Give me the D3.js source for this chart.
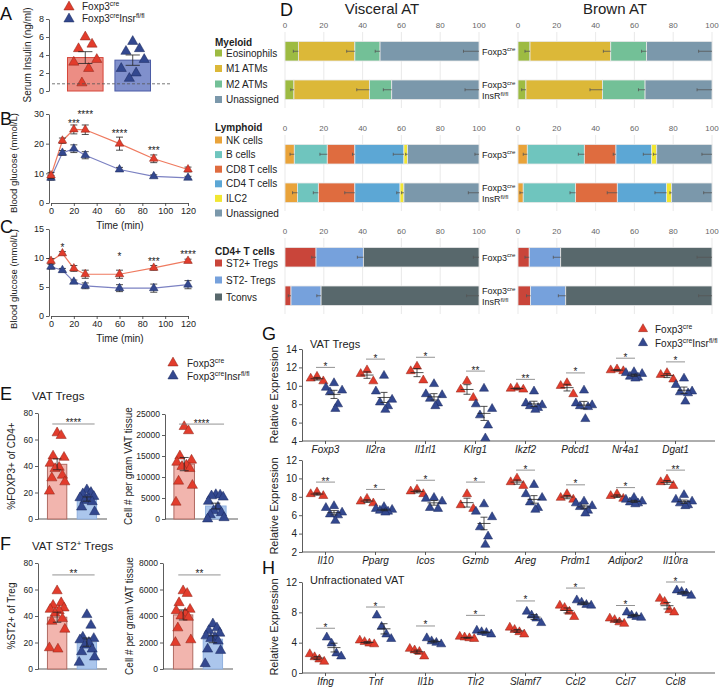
<!DOCTYPE html>
<html>
<head>
<meta charset="utf-8">
<script src="https://cdn.jsdelivr.net/npm/d3@7"></script>
<style>
body { margin: 0; background: #fff; }
</style>
</head>
<body>
<script>
'use strict';

// ---- A: serum insulin
var insulinCre = [6.0, 5.2, 4.7, 3.5, 3.2, 2.5, 0.9];
var insulinKO = [5.5, 4.7, 4.4, 3.5, 2.5, 2.0, 1.4];
var insulinCutoff = 0.8;

// ---- B / C: glucose curves
var times = [0, 10, 20, 30, 60, 90, 120];
var gttCre = [9.3, 21.0, 24.8, 24.7, 20.0, 14.9, 11.3];
var gttCreErr = [1.0, 0.9, 1.5, 1.6, 2.2, 1.3, 0.8];
var gttKO = [8.5, 16.9, 18.3, 16.1, 11.3, 9.0, 8.5];
var gttKOErr = [0.8, 0.8, 1.3, 1.2, 0.7, 0.5, 0.5];
var gttStars = [['***', 20, 27.6], ['****', 30, 30.7], ['****', 60, 24.3], ['***', 90, 18.5]];
var ittCre = [9.5, 10.8, 8.2, 7.2, 7.2, 8.3, 9.5];
var ittCreErr = [0.4, 0.3, 0.5, 0.7, 0.7, 0.4, 0.3];
var ittKO = [8.5, 7.9, 5.9, 5.2, 4.8, 4.8, 5.4];
var ittKOErr = [0.4, 0.3, 0.3, 0.5, 0.6, 0.7, 0.7];
var ittStars = [['*', 10, 12.2], ['*', 60, 10.7], ['***', 90, 9.7], ['****', 120, 10.9]];

// ---- D: composition (segment sizes, % ; row 0 = Foxp3cre, row 1 = InsR fl/fl)
var myeloidCats = ['Eosinophils', 'M1 ATMs', 'M2 ATMs', 'Unassigned'];
var lymphoidCats = ['NK cells', 'B cells', 'CD8 T cells', 'CD4 T cells', 'ILC2', 'Unassigned'];
var cd4Cats = ['ST2+ Tregs', 'ST2- Tregs', 'Tconvs'];
var visceralMyeloid = [[6.9, 29.1, 13.0, 51.0], [4.6, 38.9, 11.5, 45.0]];
var visceralMyeloidErr = [[2.6, 4.2, 2.5, 8.0], [1.6, 6.5, 4.3, 7.2]];
var visceralLymphoid = [[4.8, 17.0, 14.2, 25.3, 1.9, 36.8], [6.5, 10.7, 18.8, 23.3, 2.0, 38.7]];
var visceralLymphoidErr = [[2.2, 3.8, 1.2, 5.5, 1.0, 2.1], [2.6, 2.6, 5.2, 1.7, 1.2, 5.5]];
var visceralCd4 = [[16.0, 24.4, 59.6], [3.1, 15.5, 81.4]];
var visceralCd4Err = [[2.2, 3.1, 2.9], [1.4, 2.2, 6.4]];
var brownMyeloid = [[6.2, 41.6, 18.5, 33.7], [4.1, 39.5, 21.9, 34.5]];
var brownMyeloidErr = [[2.6, 3.8, 2.6, 6.9], [2.2, 6.5, 3.4, 7.7]];
var brownLymphoid = [[4.8, 29.4, 16.3, 18.4, 2.6, 28.5], [2.7, 27.0, 21.5, 25.4, 2.6, 20.8]];
var brownLymphoidErr = [[2.1, 3.1, 1.4, 4.3, 1.7, 5.2], [1.7, 2.9, 5.2, 6.0, 0.9, 4.3]];
var brownCd4 = [[5.8, 16.2, 78.0], [6.5, 18.1, 75.4]];
var brownCd4Err = [[2.2, 3.8, 7.7], [2.1, 3.8, 6.9]];
var compTicks = [0, 20, 40, 60, 80, 100];

// ---- E / F
var tregPctCre = [65, 63, 47.5, 46.5, 42, 39, 38, 33, 31, 28, 21];
var tregPctKO = [22, 20, 19, 17, 16, 15, 14, 13, 9, 5.5];
var tregNumCre = [22000, 21000, 15000, 14000, 13500, 12800, 12500, 12000, 9000, 8000, 4000];
var tregNumKO = [5800, 5700, 5500, 5200, 4200, 2800, 2000, 1500, 1000, 300, 0];
var st2PctCre = [59, 50, 48, 46, 45, 44, 42, 38, 36, 30, 16, 15];
var st2PctKO = [41, 33, 24, 23, 22, 20, 18, 15, 13, 9, 5];
var st2NumCre = [5900, 5700, 5000, 4500, 4400, 4200, 4000, 3900, 3100, 2200, 2000];
var st2NumKO = [3400, 3100, 2900, 2700, 2500, 2400, 2300, 2100, 1500, 1400, 400];

// ---- G / H
var gTopGenes = ['Foxp3', 'Il2ra', 'Il1rl1', 'Klrg1', 'Ikzf2', 'Pdcd1', 'Nr4a1', 'Dgat1'];
var gTopCre = [[11.0, 10.8, 10.5], [11.7, 11.3, 10.5], [12.1, 11.6, 10.6], [10.5, 9.6, 8.7],
  [9.8, 9.7, 9.6], [10.3, 10.0, 9.1], [11.8, 11.7, 11.6], [11.4, 11.2, 10.7]];
var gTopKO = [[10.3, 9.8, 9.5, 9.3, 8.0, 7.5], [11.1, 9.4, 8.5, 8.2, 7.8, 7.4], [10.2, 9.1, 9.0, 8.6, 8.1, 7.8],
  [9.7, 8.0, 7.5, 6.8, 5.7, 4.3], [9.4, 8.1, 7.9, 7.8, 7.6, 7.4], [9.5, 8.1, 7.9, 7.8, 7.7, 6.4],
  [11.5, 11.4, 11.3, 11.0, 10.9, 10.8], [10.8, 10.1, 9.4, 9.3, 9.2, 8.3]];
var gTopSig = [['*', 12.0], ['*', 12.9], ['*', 13.1], ['**', 11.6], ['**', 10.7], ['*', 11.4], ['*', 13.0], ['*', 12.6]];

var gBotGenes = ['Il10', 'Pparg', 'Icos', 'Gzmb', 'Areg', 'Prdm1', 'Adipor2', 'Il10ra'];
var gBotCre = [[8.5, 8.3, 8.1], [7.8, 7.5, 7.3], [8.8, 8.6, 8.3], [8.3, 7.1, 6.7],
  [10.0, 9.6, 9.2], [8.3, 7.9, 7.7], [8.3, 8.1, 7.8], [9.9, 9.6, 9.2]];
var gBotKO = [[7.0, 6.8, 6.3, 6.1, 6.0, 5.4], [6.9, 6.7, 6.6, 6.5, 6.4, 6.3], [7.9, 7.8, 7.5, 6.8, 6.7],
  [7.2, 6.4, 5.8, 4.7, 3.7, 2.8], [9.3, 8.3, 7.9, 7.4, 6.8, 6.6], [7.5, 7.3, 7.0, 6.9, 6.5, 6.2],
  [7.9, 7.7, 7.5, 7.4, 7.3, 7.2], [8.2, 7.7, 7.5, 7.3, 7.1, 7.0]];
var gBotSig = [['**', 9.6], ['*', 8.8], ['*', 9.8], ['*', 9.6], ['*', 10.9], ['*', 9.3], ['*', 9.0], ['**', 10.9]];

var hGenes = ['Ifng', 'Tnf', 'Il1b', 'Tlr2', 'Slamf7', 'Ccl2', 'Ccl7', 'Ccl8'];
var hCre = [[2.5, 2.1, 1.8, 1.5], [4.3, 4.1, 3.9, 3.8], [3.2, 3.0, 2.8, 2.2], [4.8, 4.7, 4.6, 4.5],
  [6.0, 5.7, 5.4, 5.1], [8.9, 8.6, 8.1, 7.4], [7.2, 7.0, 6.7, 6.5], [9.8, 9.4, 8.3, 8.0]];
var hKO = [[4.7, 3.9, 2.6, 2.2], [7.6, 6.1, 5.1, 4.5], [4.6, 4.2, 4.0, 3.8], [5.6, 5.4, 5.3, 5.1],
  [8.1, 7.6, 7.2, 6.6], [9.6, 9.3, 9.0, 8.9], [8.0, 7.6, 7.4, 7.3], [10.9, 10.7, 10.5, 10.2]];
var hSig = [['*', 5.9], ['*', 8.7], ['*', 6.2], ['*', 7.6], ['*', 9.5], ['*', 11.2], ['*', 8.9], ['*', 12.0]];

// ---------------- drawing
var FONT = '"Liberation Sans", Arial, Helvetica, sans-serif';
var RED = '#e23c2c', RED_S = '#8a2418', BLUE = '#33488f', BLUE_S = '#1b285c';
var jitBar = [0, 0.5, -0.5, 0.85, -0.85, 0.25, -0.25, 0.65, -0.65, 0.95, -0.95, 0.1];
var jitGrp = [0, -0.9, 0.9, -0.45, 0.45, 0.15];
var jitH = [-0.9, -0.3, 0.3, 0.9];
var intFmt = d3.format('d');

var svg = d3.select('body').append('svg')
	.attr('width', 719).attr('height', 690)
	.style('font-family', FONT);

function tri(size) {
	return d3.symbol().type(d3.symbolTriangle).size(size)();
}

function marker(x, y, grp, size) {
	svg.append('path').attr('d', tri(size))
		.attr('transform', 'translate(' + x + ',' + y + ')')
		.attr('fill', grp === 0 ? RED : BLUE)
		.attr('stroke', grp === 0 ? RED_S : BLUE_S)
		.attr('stroke-width', 0.5);
}

// parts: plain strings, '^' prefix means superscript
function richText(parent, x, y, parts, fs, anchor) {
	var t = parent.append('text').attr('x', x).attr('y', y).attr('font-size', fs).attr('fill', '#222');
	if (anchor) t.attr('text-anchor', anchor);
	var shift = 0;
	parts.forEach(function(p) {
		var sup = p.charAt(0) === '^',
			target = sup ? -fs * 0.38 : 0;
		t.append('tspan').attr('dy', target - shift)
			.attr('font-size', sup ? fs * 0.68 : fs)
			.text(sup ? p.slice(1) : p);
		shift = target;
	});
	return t;
}

function vLabel(parts, x, y, fs) {
	richText(svg, 0, 0, parts, fs, 'middle')
		.attr('transform', 'translate(' + x + ',' + y + ') rotate(-90)');
}

function finishAxis(g, fs) {
	g.attr('font-family', FONT).attr('font-size', fs);
	g.selectAll('path,line').attr('stroke', '#333').attr('stroke-width', 0.8);
	g.selectAll('text').attr('fill', '#222');
}

function leftAxis(scale, x, vals, fs) {
	var g = svg.append('g').attr('transform', 'translate(' + x + ',0)')
		.call(d3.axisLeft(scale).tickValues(vals).tickFormat(intFmt).tickSize(3).tickSizeOuter(0).tickPadding(2));
	finishAxis(g, fs);
	return g;
}

function hline(x1, x2, y, col, w) {
	return svg.append('line').attr('x1', x1).attr('x2', x2).attr('y1', y).attr('y2', y)
		.attr('stroke', col).attr('stroke-width', w);
}

function errBar(cx, yTop, yBot, yMid, half, capHalf) {
	var g = svg.append('g').attr('stroke', '#222').attr('stroke-width', 0.8);
	g.append('line').attr('x1', cx).attr('x2', cx).attr('y1', yTop).attr('y2', yBot);
	g.append('line').attr('x1', cx - capHalf).attr('x2', cx + capHalf).attr('y1', yTop).attr('y2', yTop);
	g.append('line').attr('x1', cx - capHalf).attr('x2', cx + capHalf).attr('y1', yBot).attr('y2', yBot);
	if (yMid !== null) {
		g.append('line').attr('x1', cx - half).attr('x2', cx + half).attr('y1', yMid).attr('y2', yMid);
	}
}

function stars(text, x, lineY, fs) {
	svg.append('text').attr('x', x).attr('y', lineY + 2.5).attr('text-anchor', 'middle')
		.attr('font-size', fs || 10).attr('fill', '#222').text(text);
}

function letter(t, x, y) {
	svg.append('text').attr('x', x).attr('y', y).attr('font-size', 18).attr('fill', '#111').text(t);
}

function sem(a) {
	return d3.deviation(a) / Math.sqrt(a.length);
}

// ---------- panel A
letter('A', 0, 20);
(function() {
	var y = d3.scaleLinear().domain([0, 8]).range([91, 19]);
	leftAxis(y, 49, [0, 2, 4, 6, 8], 9);
	vLabel(['Serum Insulin (ng/ml)'], 31, 55, 10);
	var xb = d3.scaleBand().domain([0, 1]).range([58, 160]).paddingInner(0.25).paddingOuter(0.2);
	var bw = xb.bandwidth();
	var fills = [['#ec8d84', '#d5463a'], ['#8090cc', '#4b5ba6']];
	[insulinCre, insulinKO].forEach(function(vals, gi) {
		var m = d3.mean(vals), s = sem(vals), bx = xb(gi), cx = bx + bw / 2;
		svg.append('rect').attr('x', bx).attr('y', y(m)).attr('width', bw).attr('height', y(0) - y(m))
			.attr('fill', fills[gi][0]).attr('stroke', fills[gi][1]).attr('stroke-width', 1);
		vals.forEach(function(v, i) { marker(cx + jitBar[i] * bw * 0.38, y(v), gi, 45); });
		errBar(cx, y(m + s), y(m - s), null, 0, bw * 0.2);
	});
	hline(52, 170, y(insulinCutoff), '#555', 0.8).attr('stroke-dasharray', '3,2');
	marker(69, 7, 0, 45);
	richText(svg, 82, 10, ['Foxp3', '^cre'], 10);
	marker(69, 19, 1, 45);
	richText(svg, 82, 22, ['Foxp3', '^cre', 'Insr', '^fl/fl'], 10);
})();

// ---------- panels B, C
function curvePanel(y, yTicks, cre, creErr, ko, koErr, st, axisY, yLabelY) {
	var x = d3.scaleLinear().domain([0, 120]).range([51, 188]);
	leftAxis(y, 49, yTicks, 9);
	var gx = svg.append('g').attr('transform', 'translate(0,' + axisY + ')')
		.call(d3.axisBottom(x).tickValues([0, 20, 40, 60, 80, 100, 120]).tickSize(3).tickSizeOuter(0).tickPadding(2));
	finishAxis(gx, 9);
	svg.append('text').attr('x', 120).attr('y', axisY + 26).attr('text-anchor', 'middle')
		.attr('font-size', 10).attr('fill', '#222').text('Time (min)');
	vLabel(['Blood glucose (mmol/L)'], 17, yLabelY, 9.5);
	var line = d3.line().x(function(d, i) { return x(times[i]); }).y(function(d) { return y(d); });
	svg.append('path').datum(ko).attr('d', line).attr('fill', 'none').attr('stroke', '#7b81c2').attr('stroke-width', 1.2);
	svg.append('path').datum(cre).attr('d', line).attr('fill', 'none').attr('stroke', '#ef7a5f').attr('stroke-width', 1.2);
	[[ko, koErr, 1], [cre, creErr, 0]].forEach(function(s) {
		s[0].forEach(function(v, i) {
			errBar(x(times[i]), y(v + s[1][i]), y(v - s[1][i]), null, 0, 3.5);
		});
		s[0].forEach(function(v, i) { marker(x(times[i]), y(v), s[2], 32); });
	});
	st.forEach(function(s) {
		svg.append('text').attr('x', x(s[1])).attr('y', y(s[2]) + 5.7).attr('text-anchor', 'middle')
			.attr('font-size', 10).attr('fill', '#222').text(s[0]);
	});
}
letter('B', 0, 125);
curvePanel(d3.scaleLinear().domain([0, 30]).range([203, 114]), [0, 10, 20, 30],
	gttCre, gttCreErr, gttKO, gttKOErr, gttStars, 203, 163);
letter('C', 0, 233);
curvePanel(d3.scaleLinear().domain([0, 15]).range([316, 229]), [0, 5, 10, 15],
	ittCre, ittCreErr, ittKO, ittKOErr, ittStars, 316, 279);

// ---------- panel D
letter('D', 280, 16);
(function() {
	var xVis = d3.scaleLinear().domain([0, 100]).range([285, 479]);
	var xBrown = d3.scaleLinear().domain([0, 100]).range([518, 712]);
	var palette = {
		'Eosinophils': '#9dbb42', 'M1 ATMs': '#dcb838', 'M2 ATMs': '#73c097', 'Unassigned': '#7b98ab',
		'NK cells': '#e9a33a', 'B cells': '#6fc5be', 'CD8 T cells': '#df6c3f', 'CD4 T cells': '#5ca7d5',
		'ILC2': '#f1e632', 'ST2+ Tregs': '#c9453a', 'ST2- Tregs': '#76a1dc', 'Tconvs': '#58686c'
	};
	var sections = [
		{ title: 'Myeloid', cats: myeloidCats, vis: visceralMyeloid, visErr: visceralMyeloidErr, br: brownMyeloid, brErr: brownMyeloidErr },
		{ title: 'Lymphoid', cats: lymphoidCats, vis: visceralLymphoid, visErr: visceralLymphoidErr, br: brownLymphoid, brErr: brownLymphoidErr },
		{ title: 'CD4+ T cells', cats: cd4Cats, vis: visceralCd4, visErr: visceralCd4Err, br: brownCd4, brErr: brownCd4Err }
	];
	var bases = [28, 131, 234];
	var legendHead = [46, 131, 255];
	var legendItems = [[53, 68.5, 84, 99.5], [140, 154.6, 169.2, 183.8, 198.4, 213], [263, 280, 297]];

	svg.append('text').attr('x', 382).attr('y', 14).attr('text-anchor', 'middle').attr('font-size', 15).attr('fill', '#222').text('Visceral AT');
	svg.append('text').attr('x', 615).attr('y', 14).attr('text-anchor', 'middle').attr('font-size', 15).attr('fill', '#222').text('Brown AT');

	sections.forEach(function(sec, si) {
		var base = bases[si];
		// legend
		svg.append('text').attr('x', 215).attr('y', legendHead[si]).attr('font-size', 10)
			.attr('font-weight', 'bold').attr('fill', '#222').text(sec.title);
		sec.cats.forEach(function(c, ci) {
			var cy = legendItems[si][ci];
			svg.append('rect').attr('x', 215).attr('y', cy - 3.5).attr('width', 7).attr('height', 7).attr('fill', palette[c]);
			svg.append('text').attr('x', 226).attr('y', cy + 3.5).attr('font-size', 10).attr('fill', '#222').text(c);
		});
		[[xVis, sec.vis, sec.visErr], [xBrown, sec.br, sec.brErr]].forEach(function(t) {
			var x = t[0];
			compTicks.forEach(function(v) {
				svg.append('line').attr('x1', x(v)).attr('x2', x(v)).attr('y1', base + 4).attr('y2', base + 80)
					.attr('stroke', '#e3e3e3').attr('stroke-width', 0.8);
				svg.append('text').attr('x', x(v)).attr('y', base).attr('text-anchor', 'middle')
					.attr('font-size', 8).attr('fill', '#666').text(v);
			});
			t[1].forEach(function(row, ri) {
				var top = base + (ri === 0 ? 13.5 : 52), h = 19.5, cy = top + h / 2;
				var cum = 0;
				var ends = [];
				row.forEach(function(v, ci) {
					svg.append('rect').attr('x', x(cum)).attr('y', top).attr('width', x(cum + v) - x(cum)).attr('height', h)
						.attr('fill', palette[sec.cats[ci]]).attr('stroke', '#e8e8e8').attr('stroke-width', 0.8);
					cum += v;
					ends.push(cum);
				});
				ends.forEach(function(e, ci) {
					var x0 = x(e - t[2][ri][ci]), x1 = x(e);
					var g = svg.append('g').attr('stroke', '#555').attr('stroke-width', 0.8);
					g.append('line').attr('x1', x0).attr('x2', x1).attr('y1', cy).attr('y2', cy);
					g.append('line').attr('x1', x0).attr('x2', x0).attr('y1', cy - 1.5).attr('y2', cy + 1.5);
				});
			});
		});
		// row labels
		var c0 = base + 13.5 + 9.75, c1 = base + 52 + 9.75;
		richText(svg, 482, c0 + 3.5, ['Foxp3', '^cre'], 9);
		richText(svg, 482, c1 - 1.5, ['Foxp3', '^cre'], 9);
		richText(svg, 482, c1 + 9.5, ['InsR', '^fl/fl'], 9);
	});
})();

// ---------- panels E, F
function barDots(y, axisX, xr, ticks, cre, ko, axisEnd, sigVal, sigText) {
	leftAxis(y, axisX, ticks, 8.5);
	hline(axisX, axisEnd, y(0), '#333', 0.8);
	var xb = d3.scaleBand().domain([0, 1]).range(xr).paddingInner(0.35).paddingOuter(0.25);
	var bw = xb.bandwidth();
	var fills = [['#f2b5ae', '#b06a62'], ['#abc6ec', '#8fb0df']];
	[cre, ko].forEach(function(vals, gi) {
		var m = d3.mean(vals), s = sem(vals), bx = xb(gi), cx = bx + bw / 2;
		svg.append('rect').attr('x', bx).attr('y', y(m)).attr('width', bw).attr('height', y(0) - y(m))
			.attr('fill', fills[gi][0]).attr('stroke', fills[gi][1]).attr('stroke-width', 1);
		vals.forEach(function(v, i) { marker(cx + jitBar[i] * bw * 0.42, y(v), gi, 45); });
		errBar(cx, y(m + s), y(m - s), null, 0, bw * 0.22);
	});
	var ly = y(sigVal), lx0 = xb(0) + bw * 0.25, lx1 = xb(1) + bw * 0.9;
	hline(lx0, lx1, ly, '#777', 0.8);
	stars(sigText, (lx0 + lx1) / 2, ly, 10);
}

letter('E', 0, 400);
marker(173, 363, 0, 45);
richText(svg, 187, 367, ['Foxp3', '^cre'], 10);
marker(173, 376, 1, 45);
richText(svg, 187, 380, ['Foxp3', '^cre', 'Insr', '^fl/fl'], 10);
svg.append('text').attr('x', 32).attr('y', 400).attr('font-size', 11.5).attr('fill', '#222').text('VAT Tregs');
barDots(d3.scaleLinear().domain([0, 80]).range([519, 413]), 38, [40, 104], [0, 20, 40, 60, 80],
	tregPctCre, tregPctKO, 107, 71.7, '****');
vLabel(['%FOXP3+ of CD4+'], 15, 466, 10);
barDots(d3.scaleLinear().domain([0, 25000]).range([519, 414]), 165, [166, 234], [0, 5000, 10000, 15000, 20000, 25000],
	tregNumCre, tregNumKO, 238, 22600, '****');
vLabel(['Cell # per gram VAT tissue'], 132, 466, 10);

letter('F', 0, 550);
richText(svg, 32, 550, ['VAT ST2', '^+', ' Tregs'], 11.5);
barDots(d3.scaleLinear().domain([0, 80]).range([669, 563]), 38, [40, 104], [0, 20, 40, 60, 80],
	st2PctCre, st2PctKO, 107, 71, '**');
vLabel(['%ST2+ of Treg'], 15, 616, 10);
barDots(d3.scaleLinear().domain([0, 8000]).range([669, 563]), 163, [166, 230], [0, 2000, 4000, 6000, 8000],
	st2NumCre, st2NumKO, 233, 7100, '**');
vLabel(['Cell # per gram VAT tissue'], 133, 616, 10);

// ---------- panels G, H
function dotGroups(genes, cre, ko, sig, y, ticks, jit, creHalf, koHalf) {
	var x = d3.scalePoint().domain(genes).range([325, 675]);
	leftAxis(y, 302, ticks, 10);
	var base = y.range()[0];
	hline(302, 715, base, '#333', 0.8);
	var gx = svg.append('g').attr('transform', 'translate(0,' + base + ')')
		.call(d3.axisBottom(x).tickSize(3).tickPadding(2));
	gx.select('.domain').remove();
	finishAxis(gx, 10);
	gx.selectAll('text').attr('font-style', 'italic');
	genes.forEach(function(gname, gi) {
		[[cre[gi], 0, -8, creHalf], [ko[gi], 1, 9, koHalf]].forEach(function(s) {
			var cx = x(gname) + s[2];
			s[0].forEach(function(v, i) { marker(cx + jit[i % jit.length] * s[3], y(v), s[1], 36); });
			var m = d3.mean(s[0]), e = sem(s[0]);
			errBar(cx, y(m + e), y(m - e), y(m), 6.5, 3.5);
		});
		var ly = y(sig[gi][1]), lx0 = x(gname) - 9, lx1 = x(gname) + 10;
		hline(lx0, lx1, ly, '#777', 0.8);
		stars(sig[gi][0], (lx0 + lx1) / 2, ly, 10);
	});
}

letter('G', 262, 340);
marker(643, 329, 0, 36);
richText(svg, 655, 333, ['Foxp3', '^cre'], 10);
marker(643, 343, 1, 36);
richText(svg, 655, 347, ['Foxp3', '^cre', 'Insr', '^fl/fl'], 10);
svg.append('text').attr('x', 310).attr('y', 348).attr('font-size', 11).attr('fill', '#222').text('VAT Tregs');
dotGroups(gTopGenes, gTopCre, gTopKO, gTopSig, d3.scaleLinear().domain([4, 14]).range([441, 349]),
	[4, 6, 8, 10, 12, 14], jitGrp, 7, 9);
vLabel(['Relative Expression'], 278, 395, 11);
dotGroups(gBotGenes, gBotCre, gBotKO, gBotSig, d3.scaleLinear().domain([2, 12]).range([552, 460]),
	[2, 4, 6, 8, 10, 12], jitGrp, 7, 9);
vLabel(['Relative Expression'], 278, 506, 11);

letter('H', 262, 574);
svg.append('text').attr('x', 310).attr('y', 584).attr('font-size', 11).attr('fill', '#222').text('Unfractionated VAT');
dotGroups(hGenes, hCre, hKO, hSig, d3.scaleLinear().domain([0, 12]).range([673, 582]),
	[0, 4, 8, 12], jitH, 8, 8);
vLabel(['Relative Expression'], 278, 627, 11);
</script>
</body>
</html>
